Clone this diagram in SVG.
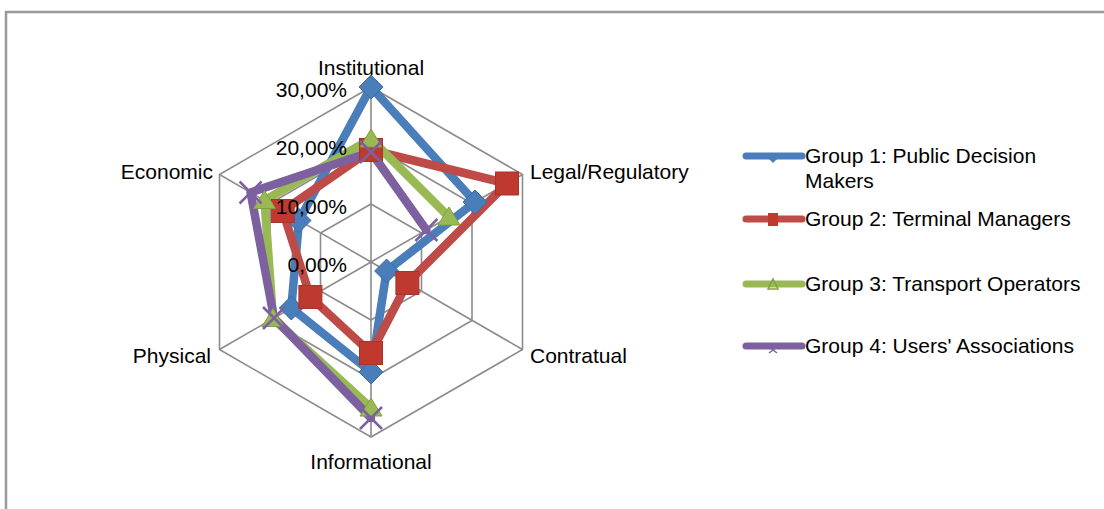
<svg xmlns="http://www.w3.org/2000/svg" width="1104" height="509" viewBox="0 0 1104 509">
<style>
text{font-family:"Liberation Sans",Arial,sans-serif;font-size:21px;fill:#000}
.grid{fill:none;stroke:#8c8c8c;stroke-width:1.6}
.s{fill:none;stroke-width:8.5;stroke-linejoin:round;stroke-linecap:round}
.g1{stroke:#4a7ebb}.g2{stroke:#be4b48}.g3{stroke:#98b954}.g4{stroke:#7d60a0}
.lg{stroke-width:7;stroke-linecap:round}
</style>
<defs>
<path id="dia" d="M0,-12 L12,0 L0,12 L-12,0 Z" fill="#4a7ebb" stroke="#3d6ca3" stroke-width="1"/>
<rect id="sq" x="-11.5" y="-11.5" width="23" height="23" fill="#c0392f" stroke="#a8322e" stroke-width="1"/>
<path id="tri" d="M0,-10 L11,8 L-11,8 Z" fill="#98b954" stroke="#82a043" stroke-width="1"/>
<path id="xx" d="M-11,-11 L11,11 M-11,11 L11,-11" stroke="#7d60a0" stroke-width="2.5" fill="none"/>
</defs>
<path d="M6,509 V12 H1104" fill="none" stroke="#999" stroke-width="2.5"/>
<g id="grid">
<polygon class="grid" points="371,204 421.5,233 421.5,291 371,320 320.5,291 320.5,233"/>
<polygon class="grid" points="371,145 472,203.5 472,320.5 371,379 270,320.5 270,203.5"/>
<polygon class="grid" points="371,87 522.5,174.5 522.5,349.5 371,437 219.5,349.5 219.5,174.5"/>
<path class="grid" d="M371,262 V87 M371,262 L522.5,174.5 M371,262 L522.5,349.5 M371,262 V437 M371,262 L219.5,349.5 M371,262 L219.5,174.5"/>
</g>
<g id="axis-labels">
<text x="371" y="75" text-anchor="middle">Institutional</text>
<text x="530" y="179">Legal/Regulatory</text>
<text x="530" y="363">Contratual</text>
<text x="371" y="469" text-anchor="middle">Informational</text>
<text x="211" y="363" text-anchor="end">Physical</text>
<text x="213" y="179" text-anchor="end">Economic</text>
</g>
<g id="connectors">
<polygon class="s g1" points="371,87 475,202 386.6,271 371,372 291.3,308 299,220.5"/>
<polygon class="s g2" points="371,150 507,183.5 407.4,283 371,353 310.4,297 282.7,211"/>
<polyline class="s g3" points="371,408 273,318.5 264.5,200.5 371,139 449,217"/>
<polyline class="s g4" points="371,418 274,318 250.6,192.5 371,152 426.4,230"/>
</g>
<g id="group1">
<use href="#dia" x="371" y="87"/><use href="#dia" x="475" y="202"/><use href="#dia" x="386.6" y="271"/><use href="#dia" x="371" y="372"/><use href="#dia" x="291.3" y="308"/><use href="#dia" x="299" y="220.5"/>
</g>
<g id="group2">
<use href="#sq" x="371" y="150"/><use href="#sq" x="507" y="183.5"/><use href="#sq" x="407.4" y="283"/><use href="#sq" x="371" y="353"/><use href="#sq" x="310.4" y="297"/><use href="#sq" x="282.7" y="211"/>
</g>
<g id="group3">
<use href="#tri" x="371" y="139"/><use href="#tri" x="449" y="217"/><use href="#tri" x="371" y="408"/><use href="#tri" x="273" y="318.5"/><use href="#tri" x="264.5" y="200.5"/>
</g>
<g id="group4">
<use href="#xx" x="371" y="152"/><use href="#xx" x="426.4" y="230"/><use href="#xx" x="371" y="418"/><use href="#xx" x="274" y="318"/><use href="#xx" x="250.6" y="192.5"/>
</g>
<g id="tick-labels">
<text x="347" y="97" text-anchor="end">30,00%</text>
<text x="347" y="155" text-anchor="end">20,00%</text>
<text x="347" y="214" text-anchor="end">10,00%</text>
<text x="347" y="272" text-anchor="end">0,00%</text>
</g>
<g id="legend">
<line class="lg g1" x1="746" y1="156" x2="802" y2="156"/>
<path d="M773,155 L777,159 L773,163 L769,159 Z" fill="#4a7ebb"/>
<text x="805" y="163">Group 1: Public Decision</text>
<text x="805" y="188">Makers</text>
<line class="lg g2" x1="746" y1="219" x2="802" y2="219"/>
<rect x="768" y="213" width="10" height="13" fill="#c0392f"/>
<text x="805" y="226">Group 2: Terminal Managers</text>
<line class="lg g3" x1="746" y1="284" x2="802" y2="284"/>
<path d="M773,279 L778,289 L768,289 Z" fill="none" stroke="#82a043" stroke-width="1.5"/>
<text x="805" y="291">Group 3: Transport Operators</text>
<line class="lg g4" x1="746" y1="346" x2="802" y2="346"/>
<path d="M769,347 L777,353 M769,353 L777,347" stroke="#7d60a0" stroke-width="1.5"/>
<text x="805" y="353">Group 4: Users' Associations</text>
</g>
</svg>
